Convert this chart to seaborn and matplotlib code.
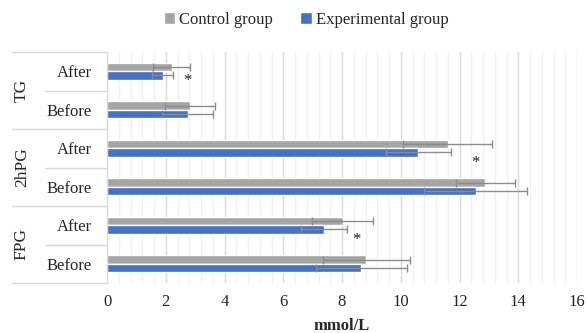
import numpy as np
import pandas as pd
import matplotlib
matplotlib.use("Agg")
import matplotlib.pyplot as plt
import seaborn as sns
from matplotlib.ticker import MultipleLocator
import matplotlib.transforms as mtransforms

# Veri (mmol/L)
groups = ["TG", "TG", "2hPG", "2hPG", "FPG", "FPG"]
phases = ["After", "Before", "After", "Before", "After", "Before"]
control_mean = [2.20, 2.83, 11.60, 12.88, 8.02, 8.83]
control_sd = [0.62, 0.86, 1.51, 1.01, 1.03, 1.48]
exp_mean = [1.89, 2.75, 10.60, 12.55, 7.38, 8.66]
exp_sd = [0.35, 0.87, 1.10, 1.75, 0.79, 1.56]
series = ["Control group", "Experimental group"]
colors = ["#A5A5A5", "#4472C4"]
# anlamlılık işaretleri (row index, x)
star_rows = [0, 2, 4]
star_x = [2.75, 12.53, 8.48]

rows = [f"{g} {p}" for g, p in zip(groups, phases)]
df = pd.DataFrame({
    "row": rows * 2,
    "group": ["Control group"] * 6 + ["Experimental group"] * 6,
    "mean": control_mean + exp_mean,
    "sd": control_sd + exp_sd,
})

sns.set_style("white")
plt.rcParams["font.family"] = ["Liberation Serif", "DejaVu Serif"]

fig = plt.figure(figsize=(5.87, 3.33), dpi=100)
ax = fig.add_axes([107 / 587, 1 - 283 / 333, 470 / 587, 231 / 333])

sns.barplot(data=df, x="mean", y="row", hue="group", order=rows,
            hue_order=series, palette=colors, width=0.44, errorbar=None,
            saturation=1, ax=ax, orient="h", zorder=2)

# hata çubukları
for cont, name in zip(ax.containers, series):
    sub = df[df["group"] == name].set_index("row").loc[rows]
    ys = [p.get_y() + p.get_height() / 2 for p in cont.patches]
    ax.errorbar(sub["mean"], ys, xerr=sub["sd"], fmt="none",
                ecolor="#8C8C8C", elinewidth=1, capsize=3, capthick=1, zorder=3)

# yıldızlar
for r, sx in zip(star_rows, star_x):
    dy = 0.25 if r == 0 else 0.38
    ax.text(sx, r + dy, "*", ha="center", va="center", fontsize=12, color="#222222")

ax.set_xlim(0, 16)
ax.set_ylim(5.5, -0.5)
ax.xaxis.set_major_locator(MultipleLocator(2))
ax.xaxis.set_minor_locator(MultipleLocator(0.4))
ax.set_axisbelow(True)
ax.grid(which="major", axis="x", color="#D9D9D9", lw=1)
ax.grid(which="minor", axis="x", color="#F0F0F0", lw=1)
for s in ["top", "right", "bottom"]:
    ax.spines[s].set_visible(False)
ax.spines["left"].set_color("#D9D9D9")

ax.set_yticks(range(len(rows)))
ax.set_yticklabels(phases)
ax.tick_params(axis="y", length=0, pad=11, labelsize=12)
ax.tick_params(axis="x", which="both", length=0, pad=8, labelsize=12)
ax.set_ylabel("")
ax.set_xlabel("mmol/L", fontsize=12, fontweight="bold", labelpad=6)

# kategori ayırıcı çizgiler ve grup etiketleri
trans = mtransforms.blended_transform_factory(ax.transAxes, ax.transData)
for b in [-0.5, 1.5, 3.5, 5.5]:
    ax.plot([-0.202, 0], [b, b], color="#D9D9D9", lw=1, transform=trans, clip_on=False)
for b in [0.5, 2.5, 4.5]:
    ax.plot([-0.132, 0], [b, b], color="#D9D9D9", lw=1, transform=trans, clip_on=False)
for i, g in enumerate(["TG", "2hPG", "FPG"]):
    ax.text(-0.181, 2 * i + 0.5, g, rotation=90, ha="center", va="center",
            fontsize=12.5, transform=trans)

sns.move_legend(ax, "center", bbox_to_anchor=(306 / 587, 1 - 20 / 333),
                bbox_transform=fig.transFigure, ncol=2, frameon=False, title=None,
                fontsize=12, handlelength=0.7, handleheight=0.7,
                handletextpad=0.25, columnspacing=1.6)

fig.savefig("out.png", dpi=100)
